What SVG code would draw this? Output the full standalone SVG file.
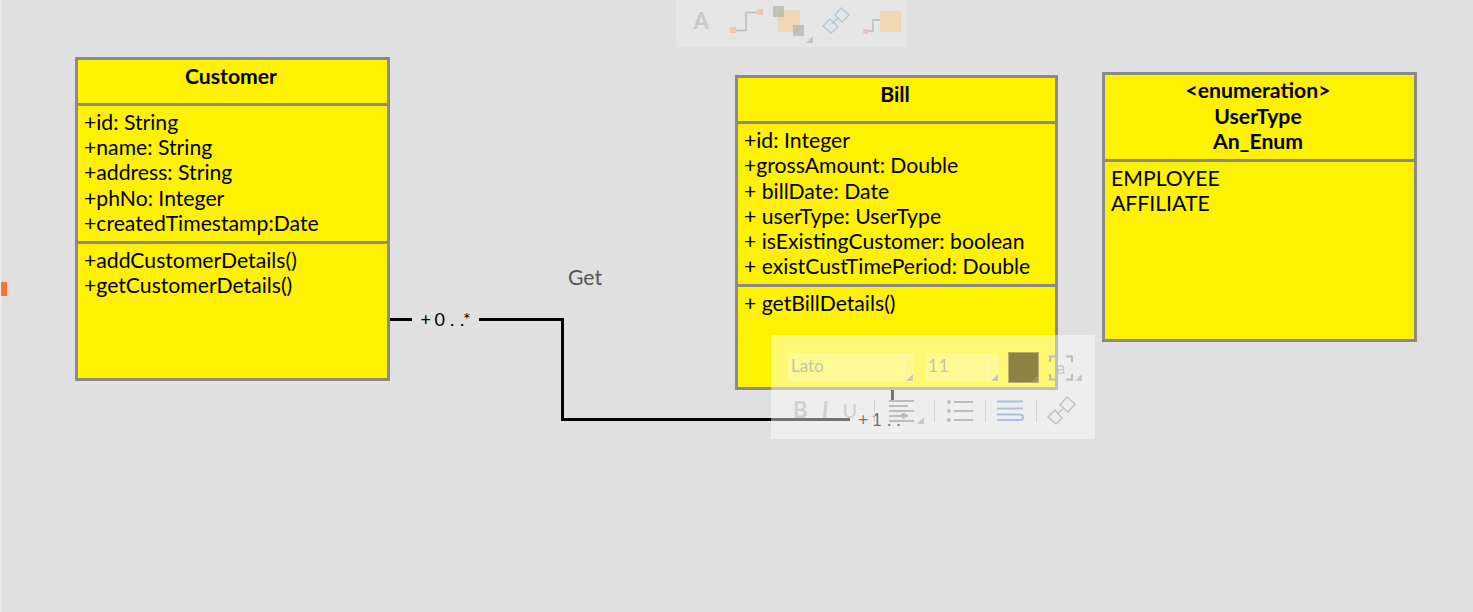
<svg xmlns="http://www.w3.org/2000/svg" width="1473" height="612" viewBox="0 0 1473 612">
<style>
text{font-family:Lato,"Liberation Sans",sans-serif;font-size:21.2px;fill:#000}
.b{font-weight:700}
.m{text-anchor:middle}
.box{fill:#fff200;stroke:#8a8a8a;stroke-width:3}
.sep{stroke:#8a8a8a;stroke-width:3;fill:none}
.wire{fill:none;stroke:#000;stroke-width:3}
.mult{font-size:18px}
.tbl{stroke:#bcbcbc;stroke-width:2;fill:none}
</style>
<rect width="1473" height="612" fill="#e0e0e0"/>
<rect x="0" y="0" width="1.500" height="612" fill="#eeeeee"/>
<rect x="1" y="282" width="6" height="14" fill="#ff7033"/>
<g id="connectors">
<path class="wire" d="M388 319.500H412M479 319.500H562.500V419.500H850"/>
<path class="wire" d="M892.500 388V402"/>
<text x="568" y="285" style="fill:#555">Get</text>
<text class="mult" x="420.500 430 434.500 445 450 455 460 463" y="325.500">+ 0 . .*</text>
<text class="mult" x="858 867 871.500 882 887 892 896.500 900" y="425.500">+ 1 . .*</text>
</g>
<g id="customer">
<rect class="box" x="76.500" y="58.500" width="312" height="321"/>
<path class="sep" d="M76.500 104.500H388.500M76.500 242.500H388.500"/>
<text class="b m" x="231" y="84">Customer</text>
<text x="84" y="130">+id: String</text>
<text x="84" y="155">+name: String</text>
<text x="84" y="180">+address: String</text>
<text x="84" y="206">+phNo: Integer</text>
<text x="84" y="231">+createdTimestamp:Date</text>
<text x="84" y="268">+addCustomerDetails()</text>
<text x="84" y="293">+getCustomerDetails()</text>
</g>
<g id="bill">
<rect class="box" x="736.500" y="76.500" width="320" height="312"/>
<path class="sep" d="M736.500 122.500H1056.500M736.500 285.500H1056.500"/>
<text class="b m" x="895" y="102">Bill</text>
<text x="744" y="148">+id: Integer</text>
<text x="744" y="173">+grossAmount: Double</text>
<text x="744" y="199">+ billDate: Date</text>
<text x="744" y="224">+ userType: UserType</text>
<text x="744" y="249">+ isExistingCustomer: boolean</text>
<text x="744" y="274">+ existCustTimePeriod: Double</text>
<text x="744" y="311">+ getBillDetails()</text>
</g>
<g id="usertype">
<rect class="box" x="1103.500" y="73.500" width="312" height="267"/>
<path class="sep" d="M1103.500 160.500H1415.500"/>
<text class="b m" x="1258" y="98">&lt;enumeration&gt;</text>
<text class="b m" x="1258" y="124">UserType</text>
<text class="b m" x="1258" y="149">An_Enum</text>
<text x="1111" y="186">EMPLOYEE</text>
<text x="1111" y="211">AFFILIATE</text>
</g>
<g id="toolbar-top">
<rect x="676" y="0" width="231" height="47" fill="#fff" fill-opacity=".2"/>
<text x="693.500" y="29" style="font-size:22px;font-weight:700;fill:#c8c8c8">A</text>
<path class="tbl" d="M733 30.500H746V12.500H760" style="stroke-width:1.500"/>
<rect x="730" y="27" width="6" height="6" fill="#f6c3ac"/><rect x="757" y="9" width="6" height="6" fill="#f6c3ac"/>
<rect x="778" y="10" width="22" height="22" fill="#f1d7b8"/>
<rect x="773" y="6" width="11" height="11" fill="#a8a8a8" fill-opacity=".6"/><rect x="793" y="25" width="11" height="11" fill="#a8a8a8" fill-opacity=".6"/>
<path d="M813 43H806L813 36Z" fill="#c4c4c4"/>
<path d="M823 26L830 19L838 27L831 33ZM835 15L841 8L849 15L842 22Z" fill="none" stroke="#a9cdd8" stroke-width="1.500"/>
<path d="M832 24L838 18" stroke="#a9cdd8" stroke-width="1.500"/>
<path class="tbl" d="M866 31H873V20H880" style="stroke-width:1.500"/>
<rect x="863" y="29" width="5" height="5" fill="#f6c3ac"/>
<rect x="880" y="11" width="21" height="21" fill="#efd7b8"/>
</g>
<g id="toolbar-format">
<rect x="771" y="335" width="324" height="104" fill="#fff" fill-opacity=".45"/>
<rect x="788.500" y="353.500" width="125" height="28" fill="#fff" fill-opacity=".25" stroke="#fff" stroke-opacity=".2"/>
<path d="M913 381H906L913 374Z" fill="#c8c8b0"/>
<path d="M904.500 354V381" stroke="#fff" stroke-opacity=".25"/>
<text x="791" y="372" style="font-size:17px;fill:#c4c4a0">Lato</text>
<rect x="925.500" y="353.500" width="73" height="28" fill="#fff" fill-opacity=".25" stroke="#fff" stroke-opacity=".2"/>
<path d="M998 381H991L998 374Z" fill="#c8c8b0"/>
<path d="M988.500 354V381" stroke="#fff" stroke-opacity=".25"/>
<text x="928" y="372" style="font-size:17px;letter-spacing:1px;fill:#c4c4a0">11</text>
<rect x="1008.500" y="352.500" width="30" height="30" fill="#8a8345" stroke="#b5b06a" stroke-width="1"/>
<path d="M1038 382H1031L1038 375Z" fill="#9a9560"/>
<path class="tbl" d="M1050 362V356.500H1056M1066 356.500H1072V362M1072 374V379.500H1066M1056 379.500H1050V374"/>
<text x="1061" y="374" class="m" style="font-size:17px;fill:#c8c8c8">a</text>
<path d="M1082 381H1075L1082 374Z" fill="#c8c8c8"/>
<text x="793" y="418" style="font-size:22px;font-weight:700;fill:#d0d0d0">B</text>
<text x="822" y="418" style="font-size:22px;font-style:italic;font-weight:700;fill:#d0d0d0">I</text>
<text x="842.500" y="418" style="font-size:20px;fill:#d0d0d0">U</text>
<path d="M874.500 400V422M934.500 400V422M985.500 400V422M1036.500 400V422" stroke="#d4d4d4" stroke-width="1"/>
<path class="tbl" d="M889 401H914M889 406H908M889 411H914M889 416H908M889 421H914"/>
<path d="M924 424H917L924 417Z" fill="#c8c8c8"/>
<path class="tbl" d="M954 402H973M954 411H973M954 420H973"/>
<circle cx="949" cy="402" r="2" fill="#bcbcbc"/><circle cx="949" cy="411" r="2" fill="#bcbcbc"/><circle cx="949" cy="420" r="2" fill="#bcbcbc"/>
<path d="M997 401.500H1023M997 408.500H1023M997 420H1016M997 414.500H1020Q1023 414.500 1023 417.500Q1023 420 1020 420H1014" fill="none" stroke="#a9c2e2" stroke-width="2"/>
<path d="M1048 417L1055 410L1062 418L1056 424ZM1060 405L1067 397L1075 404L1068 412Z" fill="none" stroke="#c4c4c4" stroke-width="1.500"/>
<path d="M1057 414L1064 408" stroke="#c4c4c4" stroke-width="1.500"/>
</g>
</svg>
